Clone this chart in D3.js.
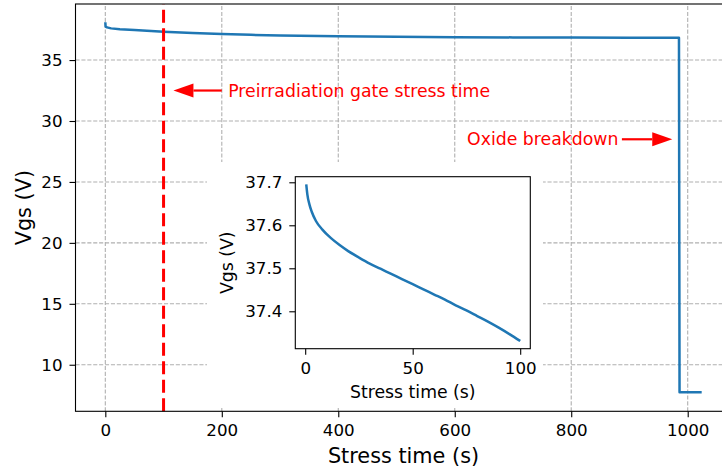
<!DOCTYPE html>
<html>
<head>
<meta charset="utf-8">
<script src="https://cdn.jsdelivr.net/npm/d3@7"></script>
<style>
  html, body { margin: 0; padding: 0; background: #fff; overflow: hidden; }
  svg { display: block; font-family: "DejaVu Sans", sans-serif; }
</style>
</head>
<body>
<svg id="chart" width="722" height="470"></svg>
<script>
// ---------------- data ----------------
const mainTime = [0, 0.5, 3, 10, 25, 50, 100, 150, 200, 250, 300, 400, 500, 600, 700, 800, 900, 985, 986, 1024];
const mainVgs  = [38.1, 37.75, 37.68, 37.6, 37.52, 37.46, 37.33, 37.22, 37.13, 37.07, 37.02, 36.95, 36.91, 36.88, 36.86, 36.85, 36.84, 36.83, 7.75, 7.74];

const insetTime = [0.5, 1, 2, 3, 5, 8, 12, 16, 20, 25, 30, 35, 40, 45, 50, 55, 60, 65, 70, 75, 80, 85, 90, 95, 100];
const insetVgs  = [37.695, 37.672, 37.648, 37.632, 37.61, 37.59, 37.57, 37.554, 37.54, 37.525, 37.511, 37.499, 37.487, 37.475, 37.463, 37.451, 37.439, 37.427, 37.414, 37.402, 37.389, 37.376, 37.362, 37.347, 37.331];

const xTicks = [0, 200, 400, 600, 800, 1000];
const yTicks = [10, 15, 20, 25, 30, 35];
const insetXTicks = [0, 50, 100];
const insetYTicks = [37.4, 37.5, 37.6, 37.7];

const stressMarkerTime = 100;
const xLabel = "Stress time (s)";
const yLabel = "Vgs (V)";
const annotPreText = "Preirradiation gate stress time";
const annotPre = { textX: 211, tailX: 200, tipX: 117, y: 32.5 };
const annotOxText = "Oxide breakdown";
const annotOx = { textX: 881, tailX: 887, tipX: 973.5, y: 28.5 };

// ---------------- layout ----------------
const svg = d3.select("#chart");
const M = { left: 75.5, right: 731.5, top: 4, bottom: 411.3 };
const I = { left: 295.3, right: 530.3, top: 176.7, bottom: 348.7 };
const blue = "#1f77b4";
const gridColor = "#b0b0b0";

const x = d3.scaleLinear().domain([-51.2, 1075.2]).range([M.left, M.right]);
const y = d3.scaleLinear().domain([6.18, 39.6]).range([M.bottom, M.top]);
const xi = d3.scaleLinear().domain([-4.6, 104.7]).range([I.left, I.right]);
const yi = d3.scaleLinear().domain([37.313, 37.713]).range([I.bottom, I.top]);

// grid
const grid = svg.append("g");
grid.selectAll("line.h").data(yTicks).join("line")
  .attr("x1", M.left).attr("x2", M.right)
  .attr("y1", d => y(d)).attr("y2", d => y(d))
  .attr("stroke", gridColor).attr("stroke-width", 1.1).attr("stroke-dasharray", "4.1,1.8");
grid.selectAll("line.v").data(xTicks).join("line")
  .attr("x1", d => x(d)).attr("x2", d => x(d))
  .attr("y1", M.bottom).attr("y2", M.top)
  .attr("stroke", gridColor).attr("stroke-width", 1.1).attr("stroke-dasharray", "4.1,1.8");

// main line
const mainData = mainTime.map((t, i) => [t, mainVgs[i]]);
svg.append("path").datum(mainData)
  .attr("d", d3.line().x(d => x(d[0])).y(d => y(d[1])))
  .attr("fill", "none").attr("stroke", blue).attr("stroke-width", 2.5)
  .attr("stroke-linejoin", "round");

// red dashed vertical line
svg.append("line")
  .attr("x1", x(stressMarkerTime)).attr("x2", x(stressMarkerTime))
  .attr("y1", M.bottom).attr("y2", M.top)
  .attr("stroke", "#ff0000").attr("stroke-width", 3).attr("stroke-dasharray", "13,5.5");

// axes
const xAxis = d3.axisBottom(x).tickValues(xTicks).tickSize(6).tickPadding(7).tickFormat(d3.format("d"));
const yAxis = d3.axisLeft(y).tickValues(yTicks).tickSize(6).tickPadding(7).tickFormat(d3.format("d"));
const gx = svg.append("g").attr("transform", `translate(0,${M.bottom})`).call(xAxis);
const gy = svg.append("g").attr("transform", `translate(${M.left},0)`).call(yAxis);
[gx, gy].forEach(g => {
  g.select(".domain").remove();
  g.selectAll(".tick line").attr("stroke", "#000").attr("stroke-width", 1.1);
  g.selectAll(".tick text").attr("fill", "#000").style("font-size", "16.7px").style("font-family", "DejaVu Sans");
});
// spines
svg.append("rect").attr("x", M.left).attr("y", M.top)
  .attr("width", M.right - M.left).attr("height", M.bottom - M.top)
  .attr("fill", "none").attr("stroke", "#000").attr("stroke-width", 1.1);

// axis labels
svg.append("text").attr("x", (M.left + M.right) / 2).attr("y", 463)
  .attr("text-anchor", "middle").style("font-size", "20.8px").text(xLabel);
svg.append("text").attr("transform", `translate(31,${(M.top + M.bottom) / 2}) rotate(-90)`)
  .attr("text-anchor", "middle").style("font-size", "20.8px").text(yLabel);

// annotations
function arrow(tailX, tipX, yy) {
  const tx = x(tailX), px = x(tipX), py = y(yy);
  const dir = Math.sign(px - tx);
  const headLen = 20, halfW = 7;
  const baseX = px - dir * headLen;
  svg.append("line").attr("x1", tx).attr("x2", baseX).attr("y1", py).attr("y2", py)
    .attr("stroke", "#ff0000").attr("stroke-width", 2.2);
  svg.append("path")
    .attr("d", `M${px},${py} L${baseX},${py - halfW} L${baseX},${py + halfW} Z`)
    .attr("fill", "#ff0000");
}
arrow(annotPre.tailX, annotPre.tipX, annotPre.y);
svg.append("text").attr("x", x(annotPre.textX)).attr("y", y(annotPre.y))
  .attr("dy", "0.35em").attr("fill", "#ff0000").style("font-size", "17.3px").text(annotPreText);
arrow(annotOx.tailX, annotOx.tipX, annotOx.y);
svg.append("text").attr("x", x(annotOx.textX)).attr("y", y(annotOx.y))
  .attr("dy", "0.35em").attr("text-anchor", "end").attr("fill", "#ff0000").style("font-size", "17.3px").text(annotOxText);

// ---------------- inset ----------------
svg.append("rect").attr("x", 207).attr("y", 162).attr("width", 336).attr("height", 246).attr("fill", "#fff");

const insetData = insetTime.map((t, i) => [t, insetVgs[i]]);
svg.append("path").datum(insetData)
  .attr("d", d3.line().curve(d3.curveMonotoneX).x(d => xi(d[0])).y(d => yi(d[1])))
  .attr("fill", "none").attr("stroke", blue).attr("stroke-width", 2.5)
  .attr("stroke-linejoin", "round");

const xiAxis = d3.axisBottom(xi).tickValues(insetXTicks).tickSize(6).tickPadding(7).tickFormat(d3.format("d"));
const yiAxis = d3.axisLeft(yi).tickValues(insetYTicks).tickSize(6).tickPadding(7).tickFormat(d3.format(".1f"));
const gxi = svg.append("g").attr("transform", `translate(0,${I.bottom})`).call(xiAxis);
const gyi = svg.append("g").attr("transform", `translate(${I.left},0)`).call(yiAxis);
[gxi, gyi].forEach(g => {
  g.select(".domain").remove();
  g.selectAll(".tick line").attr("stroke", "#000").attr("stroke-width", 1.1);
  g.selectAll(".tick text").attr("fill", "#000").style("font-size", "16.7px").style("font-family", "DejaVu Sans");
});
svg.append("rect").attr("x", I.left).attr("y", I.top)
  .attr("width", I.right - I.left).attr("height", I.bottom - I.top)
  .attr("fill", "none").attr("stroke", "#000").attr("stroke-width", 1.1);

svg.append("text").attr("x", (I.left + I.right) / 2).attr("y", 397.5)
  .attr("text-anchor", "middle").style("font-size", "17.3px").text(xLabel);
svg.append("text").attr("transform", `translate(233,${(I.top + I.bottom) / 2}) rotate(-90)`)
  .attr("text-anchor", "middle").style("font-size", "17.3px").text(yLabel);
</script>
</body>
</html>
